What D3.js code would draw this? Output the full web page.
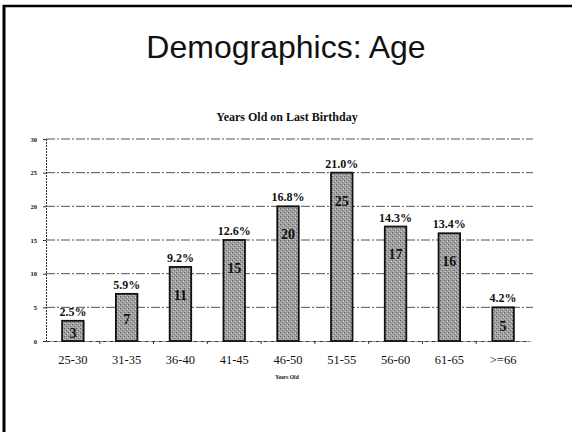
<!DOCTYPE html>
<html><head><meta charset="utf-8">
<script src="https://cdn.jsdelivr.net/npm/d3@7"></script>
<style>html,body{margin:0;padding:0;background:#fff;}svg{display:block;}</style>
</head><body>
<svg id="c" width="572" height="432"></svg>
<script>
const categories = ["25-30","31-35","36-40","41-45","46-50","51-55","56-60","61-65",">=66"];
const counts = [3,7,11,15,20,25,17,16,5];
const percents = ["2.5%","5.9%","9.2%","12.6%","16.8%","21.0%","14.3%","13.4%","4.2%"];
const yTicks = [0,5,10,15,20,25,30];

const svg = d3.select("#c");
// slide frame
svg.append("line").attr("x1",3).attr("x2",572).attr("y1",6).attr("y2",6).attr("stroke","#000").attr("stroke-width",2.5);
svg.append("line").attr("x1",4).attr("x2",4).attr("y1",5).attr("y2",432).attr("stroke","#000").attr("stroke-width",3);

svg.append("text").attr("x",286).attr("y",58).attr("text-anchor","middle")
  .attr("font-family","Liberation Sans, Arial, sans-serif").attr("font-size",32).attr("fill","#111")
  .text("Demographics: Age");

svg.append("text").attr("x",287).attr("y",121).attr("text-anchor","middle")
  .attr("font-family","Liberation Serif, Times New Roman, serif").attr("font-weight","bold").attr("font-size",12).attr("fill","#111")
  .text("Years Old on Last Birthday");

const pLeft = 46, pRight = 530, pTop = 139, pBottom = 341;
const x = d3.scaleBand().domain(categories).range([pLeft,pRight]).paddingInner(0.6).paddingOuter(0.3);
const y = d3.scaleLinear().domain([0,30]).range([pBottom,pTop]);

// gridlines
svg.append("g").selectAll("line").data(yTicks.filter(d=>d>0)).join("line")
  .attr("x1",pLeft).attr("x2",533).attr("y1",d=>y(d)).attr("y2",d=>y(d))
  .attr("stroke","#555").attr("stroke-width",1).attr("stroke-dasharray","9,2,2,2");

// y axis
const yAxis = svg.append("g").attr("transform",`translate(${pLeft},0)`)
  .call(d3.axisLeft(y).tickValues(yTicks).tickSize(3).tickPadding(6));
yAxis.select(".domain").attr("stroke","#333").attr("stroke-dasharray","2,1");
yAxis.selectAll("text").attr("font-family","Liberation Serif, serif").attr("font-weight","bold").attr("font-size",6.5).attr("fill","#111");
yAxis.selectAll(".tick line").attr("stroke","#333");

// x axis baseline with boundary ticks
const xAxis = svg.append("g").attr("transform",`translate(0,${pBottom})`)
  .call(d3.axisBottom(x).tickSize(0).tickPadding(14));
xAxis.select(".domain").attr("stroke","#333").attr("stroke-dasharray","4,1,1,1");
xAxis.selectAll("text").attr("font-family","Liberation Serif, Times New Roman, serif").attr("font-size",12.5).attr("fill","#111");
const step = x.step();
svg.append("g").selectAll("line").data(categories.slice(1)).join("line")
  .attr("x1",d=>x(d)-(step-x.bandwidth())/2).attr("x2",d=>x(d)-(step-x.bandwidth())/2)
  .attr("y1",pBottom).attr("y2",pBottom+3).attr("stroke","#333");

// texture pattern
const defs = svg.append("defs");
const pat = defs.append("pattern").attr("id","stip").attr("width",4).attr("height",4).attr("patternUnits","userSpaceOnUse");
pat.append("rect").attr("width",4).attr("height",4).attr("fill","#a0a0a0");
pat.append("rect").attr("x",0).attr("y",0).attr("width",1).attr("height",1).attr("fill","#5e5e5e");
pat.append("rect").attr("x",2).attr("y",2).attr("width",1).attr("height",1).attr("fill","#6a6a6a");
pat.append("rect").attr("x",3).attr("y",1).attr("width",1).attr("height",1).attr("fill","#d0d0d0");
pat.append("rect").attr("x",1).attr("y",3).attr("width",1).attr("height",1).attr("fill","#c8c8c8");

const data = categories.map((c,i)=>({c, v:counts[i], p:percents[i]}));
svg.append("g").selectAll("rect").data(data).join("rect")
  .attr("x",d=>x(d.c)).attr("width",x.bandwidth())
  .attr("y",d=>y(d.v)).attr("height",d=>pBottom-y(d.v))
  .attr("fill","url(#stip)").attr("stroke","#111").attr("stroke-width",1.8);

svg.append("g").selectAll("text").data(data).join("text")
  .attr("x",d=>x(d.c)+x.bandwidth()/2).attr("y",d=>y(d.v)-5).attr("text-anchor","middle")
  .attr("font-family","Liberation Serif, Times New Roman, serif").attr("font-weight","bold").attr("font-size",12).attr("fill","#111")
  .text(d=>d.p);

svg.append("g").selectAll("text").data(data).join("text")
  .attr("x",d=>x(d.c)+x.bandwidth()/2)
  .attr("y",d=>Math.min(y(d.v)+28,(y(d.v)+pBottom)/2+2)).attr("dy","0.35em").attr("text-anchor","middle")
  .attr("font-family","Liberation Serif, Times New Roman, serif").attr("font-weight","bold").attr("font-size",14).attr("fill","#111")
  .text(d=>d.v);

svg.append("text").attr("x",287).attr("y",379).attr("text-anchor","middle")
  .attr("font-family","Liberation Serif, serif").attr("font-weight","bold").attr("font-size",5.5).attr("fill","#111")
  .text("Years Old");
</script>
</body></html>
